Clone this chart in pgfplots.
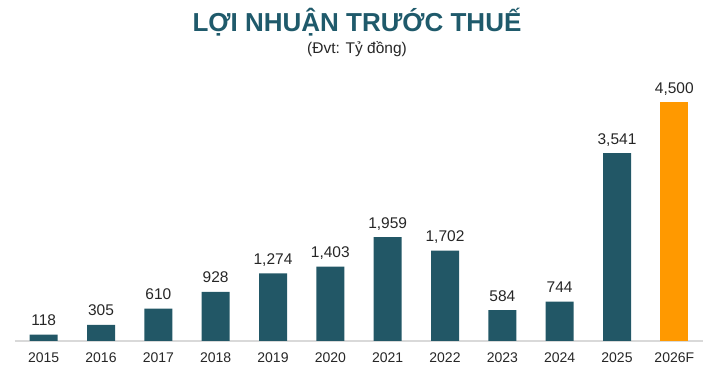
\documentclass[border=0pt]{standalone}
\usepackage{pgfplots}
\pgfplotsset{compat=1.18}
\usepackage{fontspec}
\setmainfont{Liberation Sans}
\definecolor{teal}{HTML}{225766}
\definecolor{ttl}{HTML}{1F5A6B}
\definecolor{org}{HTML}{FF9900}
\definecolor{txt}{HTML}{262626}
\definecolor{base}{HTML}{D9D9D9}
\begin{document}
\begin{tikzpicture}
\path[use as bounding box] (0pt,0pt) rectangle (718pt,375pt);
\node[anchor=base, text=ttl, font=\fontsize{26}{30}\selectfont\bfseries, inner sep=0pt] at (357pt,343pt) {LỢI NHUẬN TRƯỚC THUẾ};
\node[anchor=base, text=txt, font=\fontsize{15.5}{18}\selectfont, inner sep=0pt] at (357pt,321.7pt) {(Đvt: Tỷ đồng)};
\begin{axis}[
  at={(15pt,34pt)}, anchor=south west,
  scale only axis, width=688pt, height=265.25pt,
  xmin=-0.5, xmax=11.5, ymin=0, ymax=5000,
  axis x line=bottom, axis y line=none,
  axis line style={base, line width=1.5pt, -},
  xtick={0,...,11},
  xticklabels={2015,2016,2017,2018,2019,2020,2021,2022,2023,2024,2025,2026F},
  major tick length=0pt,
  xticklabel style={anchor=base, yshift=-21.5pt, inner sep=0pt, text=txt, font=\fontsize{14}{16}\selectfont},
  ybar, bar width=28pt, bar shift=0pt,
  clip=false,
  nodes near coords,
  every node near coord/.append style={anchor=base, yshift=9pt, inner sep=0pt, text=txt, font=\fontsize{15.5}{18}\selectfont},
  nodes near coords style={/pgf/number format/.cd, fixed, precision=0, 1000 sep={,}, assume math mode=true},
]
\addplot[fill=teal, draw=none] coordinates {(0,118) (1,305) (2,610) (3,928) (4,1274) (5,1403) (6,1959) (7,1702) (8,584) (9,744) (10,3541)};
\addplot[fill=org, draw=none] coordinates {(11,4500)};
\end{axis}
\end{tikzpicture}
\end{document}
